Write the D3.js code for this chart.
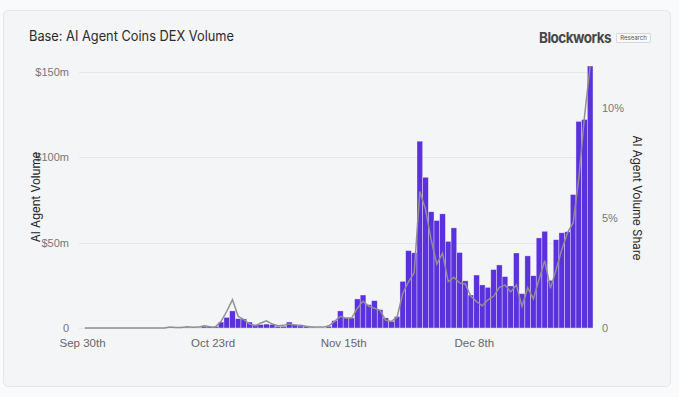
<!DOCTYPE html>
<html>
<head>
<meta charset="utf-8">
<script src="https://cdn.jsdelivr.net/npm/d3@7"></script>
<style>
  html, body { margin: 0; padding: 0; background: #f9fafb; }
  svg { display: block; font-family: Inter, "Noto Sans", sans-serif; }
</style>
</head>
<body>
<svg id="chart" width="679" height="397"></svg>
<script>
// first and last day of the daily series
const startDay = new Date(2024, 8, 30);
const endDay = new Date(2024, 11, 29);

// daily DEX volume of AI agent coins on Base, $m
const volume = [
  0, 0, 0, 0, 0, 0, 0, 0, 0, 0,
  0, 0, 0, 0, 0, 0.6, 0.2, 0.2, 0.5, 0.2,
  0.4, 1.0, 0.8, 0.8, 3.5, 6.2, 10, 5.5, 5.3, 3.5,
  2, 2, 2.3, 2, 1, 1, 3.5, 2, 1.2, 1,
  0.5, 0.3, 0.3, 1, 4.3, 10, 5.9, 5.9, 17, 19.3,
  13.7, 16, 10.7, 5.9, 3.9, 6.8, 27.3, 45.3, 44, 109.3,
  88.2, 68, 62.9, 66.8, 50.7, 58.6, 44.2, 27.6, 19.3, 31,
  25.2, 23.8, 34.2, 36.9, 30.1, 24.6, 43.9, 20.1, 42.2, 30.6,
  52.7, 56.6, 27.9, 51.7, 55.7, 56.3, 78.1, 120.9, 122, 153.3
];

// share of Base DEX volume, %
const share = [
  0, 0, 0, 0, 0, 0, 0, 0, 0, 0,
  0, 0, 0, 0, 0, 0.05, 0.02, 0.02, 0.06, 0.03,
  0.04, 0.1, 0.06, 0.05, 0.3, 0.76, 1.29, 0.53, 0.38, 0.18,
  0.1, 0.23, 0.33, 0.18, 0.1, 0.12, 0.18, 0.14, 0.12, 0.08,
  0.05, 0.04, 0.04, 0.1, 0.3, 0.53, 0.45, 0.45, 0.9, 1.21,
  1.0, 0.9, 0.8, 0.35, 0.3, 0.5, 1.58, 2.1, 2.5, 6.2,
  5.4, 4.0, 2.9, 3.4, 2.1, 2.3, 2.05, 2.0, 1.44, 1.2,
  1.01, 1.28, 1.44, 1.85, 1.95, 1.64, 1.95, 0.98, 1.83, 1.32,
  2.2, 3.06, 1.8, 2.65, 3.56, 4.32, 4.77, 6.8, 9.6, 11.9
];

const volumeTicks = [0, 50, 100, 150];
const shareTicks = [0, 5, 10];
const dateTicks = [new Date(2024, 8, 30), new Date(2024, 9, 23), new Date(2024, 10, 15), new Date(2024, 11, 8)];
const dateTickLabels = ["Sep 30th", "Oct 23rd", "Nov 15th", "Dec 8th"];

const days = d3.timeDay.range(startDay, endDay);
const rows = days.map((d, i) => ({ date: d, volume: volume[i], share: share[i] }));

const svg = d3.select("#chart");
const plotL = 82, plotR = 593, plotT = 66, plotB = 328;

// card
svg.append("rect")
  .attr("x", 3.5).attr("y", 10.5)
  .attr("width", 667).attr("height", 376)
  .attr("rx", 5)
  .attr("fill", "#f4f5f7")
  .attr("stroke", "#e5e6e9");

svg.append("text")
  .attr("x", 29).attr("y", 41)
  .attr("font-size", 14)
  .attr("fill", "#2a2a2a")
  .attr("textLength", 205).attr("lengthAdjust", "spacingAndGlyphs")
  .text("Base: AI Agent Coins DEX Volume");

// logo
svg.append("text")
  .attr("x", 539).attr("y", 42.5)
  .attr("font-size", 15).attr("font-weight", 700)
  .attr("letter-spacing", -0.6)
  .attr("fill", "#474747")
  .attr("textLength", 72).attr("lengthAdjust", "spacingAndGlyphs")
  .text("Blockworks");
svg.append("rect")
  .attr("x", 616.5).attr("y", 33.5)
  .attr("width", 34).attr("height", 9)
  .attr("rx", 1)
  .attr("fill", "#fafafa").attr("stroke", "#c9c9c9").attr("stroke-width", 0.7);
svg.append("text")
  .attr("x", 633.5).attr("y", 40.3)
  .attr("text-anchor", "middle")
  .attr("font-size", 6).attr("fill", "#555")
  .text("Research");

const x = d3.scaleTime().domain([startDay, endDay]).range([plotL, plotR]);
const yVol = d3.scaleLinear().domain([0, d3.max(volume)]).range([plotB, plotT]);
const yShare = d3.scaleLinear().domain([0, d3.max(share)]).range([plotB, plotT]);
const step = x(d3.timeDay.offset(startDay, 1)) - x(startDay);

// grid
svg.append("g")
  .selectAll("line")
  .data(volumeTicks)
  .join("line")
  .attr("x1", plotL - 3).attr("x2", plotR)
  .attr("y1", d => Math.round(yVol(d)) + 0.5)
  .attr("y2", d => Math.round(yVol(d)) + 0.5)
  .attr("stroke", "#e6e7ea");

// left axis
const axisL = svg.append("g")
  .attr("transform", `translate(${plotL - 10},0)`)
  .call(d3.axisLeft(yVol).tickValues(volumeTicks).tickSize(0)
    .tickFormat(d => d === 0 ? "0" : `$${d}m`));
axisL.select(".domain").remove();
axisL.selectAll("text").attr("font-size", 11).attr("fill", "#777").attr("font-family", null);

// right axis
const axisR = svg.append("g")
  .attr("transform", `translate(${plotR + 6},0)`)
  .call(d3.axisRight(yShare).tickValues(shareTicks).tickSize(0)
    .tickFormat(d => d === 0 ? "0" : `${d}%`));
axisR.select(".domain").remove();
axisR.selectAll("text").attr("font-size", 11).attr("fill", "#777").attr("font-family", null);

// bottom axis
const axisB = svg.append("g")
  .attr("transform", `translate(0,${plotB + 8})`)
  .call(d3.axisBottom(x).tickValues(dateTicks).tickSize(0)
    .tickFormat((d, i) => dateTickLabels[i]));
axisB.select(".domain").remove();
axisB.selectAll("text").attr("font-size", 11.5).attr("fill", "#666").attr("font-family", null);

// axis titles
svg.append("text")
  .attr("transform", "translate(40,197) rotate(-90)")
  .attr("text-anchor", "middle")
  .attr("font-size", 11.5).attr("fill", "#222")
  .text("AI Agent Volume");
svg.append("text")
  .attr("transform", "translate(632.5,198) rotate(90)")
  .attr("text-anchor", "middle")
  .attr("font-size", 11.5).attr("fill", "#222")
  .text("AI Agent Volume Share");

// bars
svg.append("g")
  .selectAll("rect")
  .data(rows)
  .join("rect")
  .attr("x", d => x(d.date))
  .attr("y", d => yVol(d.volume))
  .attr("width", step)
  .attr("height", d => plotB - yVol(d.volume))
  .attr("fill", "#5a31dc")
  .attr("stroke", "#ffffff")
  .attr("stroke-opacity", 0.6)
  .attr("stroke-width", 0.6);

// share line
const line = d3.line()
  .x(d => x(d.date) + step / 2)
  .y(d => yShare(d.share));
svg.append("path")
  .datum(rows)
  .attr("d", line)
  .attr("fill", "none")
  .attr("stroke", "#909090")
  .attr("stroke-width", 1.5);
</script>
</body>
</html>
